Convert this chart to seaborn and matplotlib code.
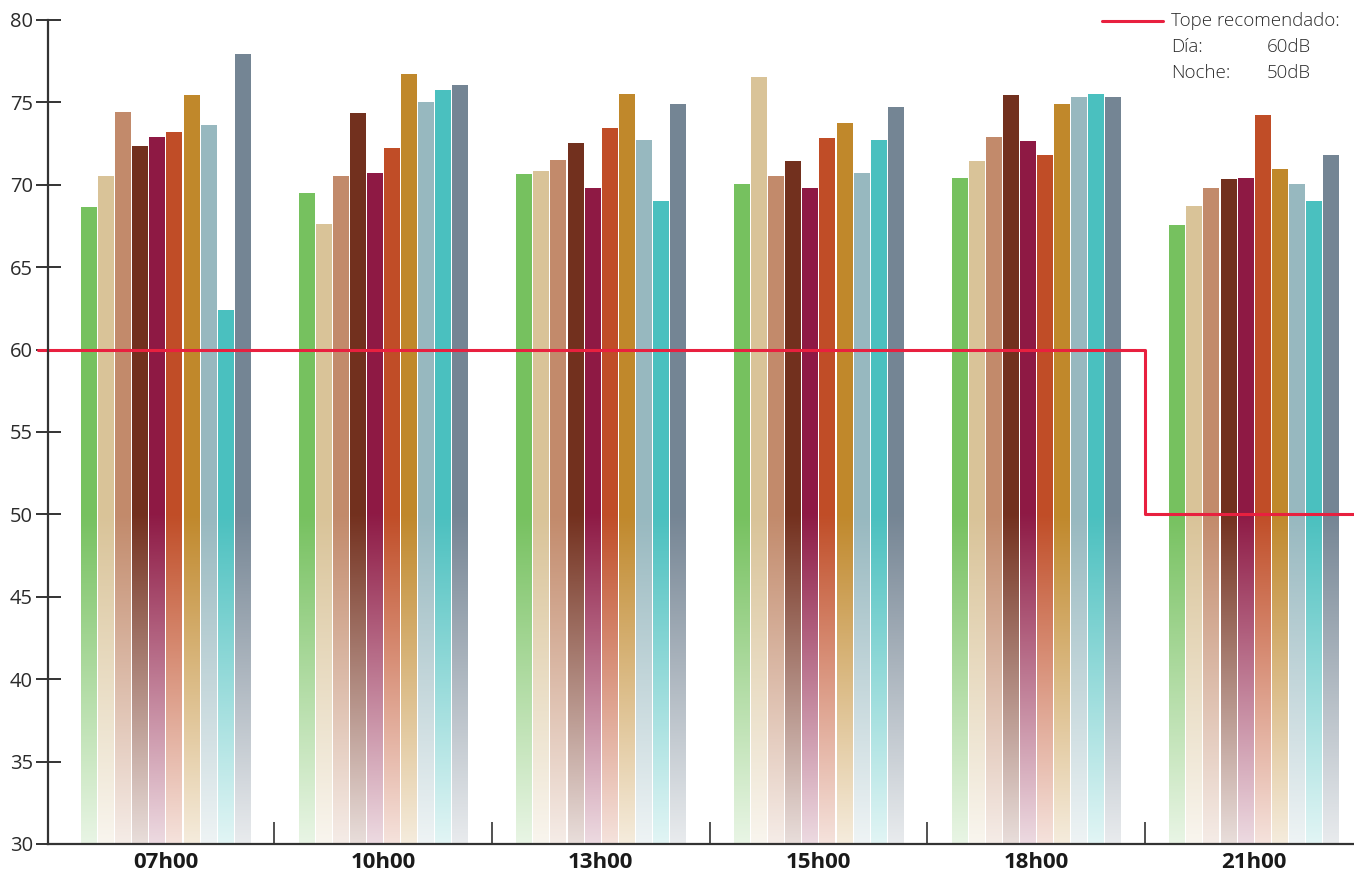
import numpy as np
import pandas as pd
import matplotlib
matplotlib.use("Agg")
import matplotlib.pyplot as plt
from matplotlib import font_manager
import seaborn as sns

# ---------------- data ----------------
hours = ["07h00", "10h00", "13h00", "15h00", "18h00", "21h00"]
series = ["Punto 1", "Punto 2", "Punto 3", "Punto 4", "Punto 5",
          "Punto 6", "Punto 7", "Punto 8", "Punto 9", "Punto 10"]
values_0700 = [68.6, 70.5, 74.4, 72.3, 72.9, 73.2, 75.4, 73.6, 62.4, 77.9]
values_1000 = [69.5, 67.6, 70.5, 74.3, 70.7, 72.2, 76.7, 75.0, 75.7, 76.0]
values_1300 = [70.6, 70.8, 71.5, 72.5, 69.8, 73.4, 75.5, 72.7, 69.0, 74.9]
values_1500 = [70.0, 76.5, 70.5, 71.4, 69.8, 72.8, 73.7, 70.7, 72.7, 74.7]
values_1800 = [70.4, 71.4, 72.9, 75.4, 72.6, 71.8, 74.9, 75.3, 75.5, 75.3]
values_2100 = [67.5, 68.7, 69.8, 70.3, 70.4, 74.2, 70.9, 70.0, 69.0, 71.8]
limit_values = [60, 60, 60, 60, 60, 50]   # tope recomendado per hour
y_ticks = [30, 35, 40, 45, 50, 55, 60, 65, 70, 75, 80]
legend_title = "Tope recomendado:"
legend_rows = [("Día:", "60dB"), ("Noche:", "50dB")]

colors = ["#76C15F", "#D9C398", "#C28A6B", "#73301E", "#8E1A45",
          "#C04D27", "#C0882B", "#97B8BF", "#4AC0BF", "#758594"]
line_color = "#E8203F"
text_color = "#2b2b2b"

all_vals = [values_0700, values_1000, values_1300, values_1500, values_1800, values_2100]
rows = []
for h, vals in zip(hours, all_vals):
    for s, v in zip(series, vals):
        rows.append({"hora": h, "punto": s, "dB": v})
df = pd.DataFrame(rows)

# ---------------- figure ----------------
sns.set_theme(style="white")
plt.rcParams["font.family"] = ["Open Sans", "DejaVu Sans"]

installed = {f.name for f in font_manager.fontManager.ttflist}
if "Liberation Sans Narrow" in installed:
    xlab_family = ["Liberation Sans Narrow", "DejaVu Sans"]
    xlab_size = 17
else:
    xlab_family = ["Open Sans", "DejaVu Sans"]
    xlab_size = 16

fig = plt.figure(figsize=(13.54, 8.75), dpi=100)
ax = fig.add_axes([48 / 1354, 1 - 844 / 875, 1 - 48 / 1354, (844 - 20) / 875])

sns.barplot(data=df, x="hora", y="dB", hue="punto", order=hours,
            hue_order=series, palette=colors, saturation=1, width=0.786,
            gap=0.1, ax=ax, legend=False, linewidth=0, errorbar=None)

ymin, ymax = 30, 80

# gradient fill for bars: solid above 50, fading toward 30
fade_top = 50.0
alpha_bottom = 0.16
bars = [p for p in ax.patches]
for p in bars:
    x0 = p.get_x()
    w = p.get_width()
    top = p.get_y() + p.get_height()
    rgb = np.array(matplotlib.colors.to_rgb(p.get_facecolor()))
    n = 1200
    yy = np.linspace(ymin, top, n)
    a = np.clip((yy - ymin) / (fade_top - ymin), 0, 1)
    a = alpha_bottom + (1 - alpha_bottom) * a
    img = np.ones((n, 1, 3))
    # pre-blend with white background for a smooth result
    img[:, 0, :] = 1 - a[:, None] * (1 - rgb[None, :])
    ax.imshow(img, extent=[x0, x0 + w, ymin, top], origin="lower",
              aspect="auto", interpolation="nearest", zorder=2)
    p.set_visible(False)
ax.set_xlim(-0.54, 5.46)
ax.set_ylim(ymin, ymax)

# recommended limit step line
xpos = list(range(len(hours)))
xs = [-0.585] + xpos + [5.46]
ys = [limit_values[0]] + limit_values + [limit_values[-1]]
ax.step(xs, ys, where="mid", color=line_color, lw=2.2, zorder=4, clip_on=False)

# axes styling
for side in ["top", "right"]:
    ax.spines[side].set_visible(False)
for side in ["left", "bottom"]:
    ax.spines[side].set_color("#333333")
    ax.spines[side].set_linewidth(1.6)
    ax.spines[side].set_zorder(5)

ax.set_yticks(y_ticks)
ax.set_yticklabels([str(t) for t in y_ticks], fontsize=14.5, color=text_color)
ax.tick_params(axis="y", which="major", direction="inout", length=18,
               width=1.4, color="#333333", pad=2, left=True)
ax.set_xticks(xpos)
ax.set_xticklabels(hours, fontsize=xlab_size, fontweight="bold", color="#1a1a1a",
                   family=xlab_family)
ax.tick_params(axis="x", which="major", length=0, pad=6)
ax.set_xticks([i + 0.5 for i in range(len(hours) - 1)], minor=True)
ax.tick_params(axis="x", which="minor", direction="in", length=16,
               width=1.2, color="#333333", bottom=True)
ax.set_xlabel("")
ax.set_ylabel("")
ax.grid(False)

# custom legend, top right
fig.add_artist(plt.Line2D([1102 / 1354, 1163 / 1354], [1 - 21 / 875, 1 - 21 / 875],
                          color=line_color, lw=2.2))
fig.text(1171 / 1354, 1 - 21 / 875, legend_title, fontsize=13.5, color=text_color,
         va="center", ha="left", fontweight="light")
for i, (lab, val) in enumerate(legend_rows):
    yv = 1 - (47 + 26 * i) / 875
    fig.text(1171 / 1354, yv, lab, fontsize=13.5, color=text_color, va="center",
             ha="left", fontweight="light")
    fig.text(1267 / 1354, yv, val, fontsize=13.5, color=text_color, va="center",
             ha="left", fontweight="light")

fig.savefig("out.png", dpi=100)
